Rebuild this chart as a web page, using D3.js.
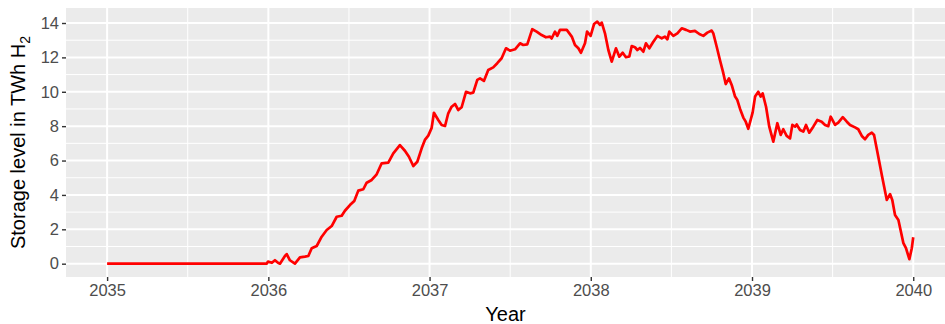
<!DOCTYPE html>
<html>
<head>
<meta charset="utf-8">
<script src="https://cdn.jsdelivr.net/npm/d3@7"></script>
<style>
  html, body { margin: 0; padding: 0; background: #fff; }
  svg { display: block; }
  text { font-family: "Liberation Sans", Arial, sans-serif; }
</style>
</head>
<body>
<svg id="chart" width="945" height="324"></svg>
<script>
// Hydrogen storage fill level over time (decimal year, TWh H2)
const years = [
  2035.000, 2035.989, 2035.998, 2036.022, 2036.041, 2036.060, 2036.072, 2036.103, 2036.114, 2036.134,
  2036.165, 2036.196, 2036.227, 2036.248, 2036.269, 2036.300, 2036.331, 2036.362, 2036.393, 2036.424,
  2036.455, 2036.475, 2036.506, 2036.533, 2036.558, 2036.589, 2036.610, 2036.641, 2036.672, 2036.703,
  2036.744, 2036.775, 2036.816, 2036.847, 2036.872, 2036.899, 2036.924, 2036.951, 2036.971, 2036.992,
  2037.013, 2037.027, 2037.054, 2037.075, 2037.096, 2037.116, 2037.137, 2037.158, 2037.178, 2037.199,
  2037.226, 2037.251, 2037.271, 2037.296, 2037.313, 2037.337, 2037.364, 2037.395, 2037.420, 2037.447,
  2037.474, 2037.499, 2037.530, 2037.561, 2037.581, 2037.606, 2037.637, 2037.664, 2037.695, 2037.722,
  2037.747, 2037.757, 2037.778, 2037.792, 2037.809, 2037.851, 2037.882, 2037.902, 2037.923, 2037.939,
  2037.964, 2037.977, 2037.999, 2038.020, 2038.040, 2038.057, 2038.068, 2038.088, 2038.109, 2038.130,
  2038.156, 2038.177, 2038.198, 2038.218, 2038.239, 2038.254, 2038.274, 2038.289, 2038.305, 2038.326,
  2038.342, 2038.363, 2038.388, 2038.413, 2038.440, 2038.460, 2038.475, 2038.487, 2038.512, 2038.537,
  2038.564, 2038.591, 2038.615, 2038.646, 2038.673, 2038.698, 2038.723, 2038.750, 2038.760, 2038.781,
  2038.801, 2038.822, 2038.837, 2038.857, 2038.874, 2038.895, 2038.909, 2038.926, 2038.946, 2038.961,
  2038.977, 2039.004, 2039.019, 2039.039, 2039.054, 2039.066, 2039.087, 2039.107, 2039.132, 2039.157,
  2039.178, 2039.194, 2039.215, 2039.236, 2039.250, 2039.267, 2039.277, 2039.298, 2039.318, 2039.335,
  2039.355, 2039.380, 2039.405, 2039.432, 2039.453, 2039.473, 2039.488, 2039.515, 2039.535, 2039.563,
  2039.588, 2039.608, 2039.639, 2039.659, 2039.681, 2039.701, 2039.721, 2039.743, 2039.757, 2039.777,
  2039.805, 2039.836, 2039.856, 2039.870, 2039.887, 2039.908, 2039.939, 2039.955, 2039.976, 2039.991,
  2040.000
];
const storage = [
  0.00, 0.00, 0.12, 0.05, 0.20, 0.05, 0.00, 0.45, 0.56, 0.20,
  0.00, 0.37, 0.41, 0.45, 0.90, 1.03, 1.57, 1.96, 2.19, 2.73,
  2.79, 3.08, 3.41, 3.65, 4.25, 4.33, 4.71, 4.87, 5.20, 5.84,
  5.88, 6.42, 6.90, 6.57, 6.22, 5.68, 5.93, 6.71, 7.20, 7.45,
  7.90, 8.78, 8.36, 8.07, 8.01, 8.75, 9.13, 9.29, 8.94, 9.10,
  10.00, 9.91, 9.95, 10.69, 10.78, 10.63, 11.27, 11.42, 11.66, 11.95,
  12.53, 12.39, 12.47, 12.82, 12.72, 12.76, 13.64, 13.50, 13.30, 13.17,
  13.21, 13.10, 13.50, 13.25, 13.60, 13.60, 13.21, 12.72, 12.53, 12.27,
  12.82, 13.50, 13.25, 13.94, 14.08, 13.89, 14.02, 13.40, 12.43, 11.75,
  12.53, 12.04, 12.27, 12.01, 12.05, 12.66, 12.59, 12.43, 12.55, 12.33,
  12.82, 12.53, 12.91, 13.25, 13.11, 13.21, 13.05, 13.50, 13.25, 13.40,
  13.69, 13.60, 13.50, 13.54, 13.36, 13.25, 13.44, 13.56, 13.40, 12.62,
  11.85, 11.08, 10.45, 10.78, 10.40, 9.72, 9.52, 9.00, 8.50, 8.26,
  7.85, 8.80, 9.72, 10.00, 9.72, 9.91, 9.13, 7.97, 7.10, 8.17,
  7.49, 7.82, 7.43, 7.29, 8.07, 7.97, 8.10, 7.78, 7.68, 8.07,
  7.62, 7.97, 8.36, 8.26, 8.07, 8.00, 8.55, 8.07, 8.20, 8.52,
  8.26, 8.07, 7.93, 7.82, 7.43, 7.24, 7.49, 7.62, 7.49, 6.52,
  5.16, 3.71, 4.05, 3.71, 2.83, 2.54, 1.19, 0.90, 0.26, 0.90,
  1.54
];
const xTicks = [2035, 2036, 2037, 2038, 2039, 2040];
const xMinor = [2035.5, 2036.5, 2037.5, 2038.5, 2039.5];
const yTicks = [0, 2, 4, 6, 8, 10, 12, 14];
const yMinor = [1, 3, 5, 7, 9, 11, 13];

const svg = d3.select("#chart");
const panel = { left: 66, right: 945, top: 8, bottom: 277 };

const x = d3.scaleLinear()
  .domain([2034.745, 2040.197])
  .range([panel.left, panel.right]);
const y = d3.scaleLinear()
  .domain([-0.774, 14.873])
  .range([panel.bottom, panel.top]);

// panel background
svg.append("rect")
  .attr("x", panel.left).attr("y", panel.top)
  .attr("width", panel.right - panel.left)
  .attr("height", panel.bottom - panel.top)
  .attr("fill", "#EBEBEB");

const grid = svg.append("g");
grid.selectAll(".ymin").data(yMinor).join("line")
  .attr("x1", panel.left).attr("x2", panel.right)
  .attr("y1", d => y(d)).attr("y2", d => y(d))
  .attr("stroke", "#fff").attr("stroke-width", 1);
grid.selectAll(".xmin").data(xMinor).join("line")
  .attr("y1", panel.top).attr("y2", panel.bottom)
  .attr("x1", d => x(d)).attr("x2", d => x(d))
  .attr("stroke", "#fff").attr("stroke-width", 1);
grid.selectAll(".ymaj").data(yTicks).join("line")
  .attr("x1", panel.left).attr("x2", panel.right)
  .attr("y1", d => y(d)).attr("y2", d => y(d))
  .attr("stroke", "#fff").attr("stroke-width", 2);
grid.selectAll(".xmaj").data(xTicks).join("line")
  .attr("y1", panel.top).attr("y2", panel.bottom)
  .attr("x1", d => x(d)).attr("x2", d => x(d))
  .attr("stroke", "#fff").attr("stroke-width", 2);

// storage line
const pts = years.map((t, i) => [t, storage[i]]);
svg.append("path")
  .datum(pts)
  .attr("fill", "none")
  .attr("stroke", "#FF0000")
  .attr("stroke-width", 2.7)
  .attr("stroke-linejoin", "round")
  .attr("d", d3.line().x(d => x(d[0])).y(d => y(d[1])));

// axes
const xAxis = svg.append("g")
  .attr("transform", `translate(0,${panel.bottom})`)
  .call(d3.axisBottom(x).tickValues(xTicks).tickFormat(d3.format("d")).tickSize(4).tickPadding(3));
const yAxis = svg.append("g")
  .attr("transform", `translate(${panel.left},0)`)
  .call(d3.axisLeft(y).tickValues(yTicks).tickFormat(d3.format("d")).tickSize(4).tickPadding(3));
[xAxis, yAxis].forEach(a => {
  a.select(".domain").remove();
  a.selectAll(".tick line").attr("stroke", "#333333").attr("stroke-width", 1.4);
  a.selectAll(".tick text")
    .attr("fill", "#4D4D4D")
    .style("font-size", "16.5px")
    .style("font-family", "'Liberation Sans', Arial, sans-serif");
});

// axis titles
svg.append("text")
  .attr("x", (panel.left + panel.right) / 2)
  .attr("y", 321)
  .attr("text-anchor", "middle")
  .attr("fill", "#000")
  .style("font-size", "20px")
  .text("Year");

const yTitle = svg.append("text")
  .attr("transform", `translate(25,${(panel.top + panel.bottom) / 2}) rotate(-90)`)
  .attr("text-anchor", "middle")
  .attr("fill", "#000")
  .style("font-size", "20px");
yTitle.append("tspan").text("Storage level in TWh H");
yTitle.append("tspan").attr("dy", 5).style("font-size", "14px").text("2");
</script>
</body>
</html>
